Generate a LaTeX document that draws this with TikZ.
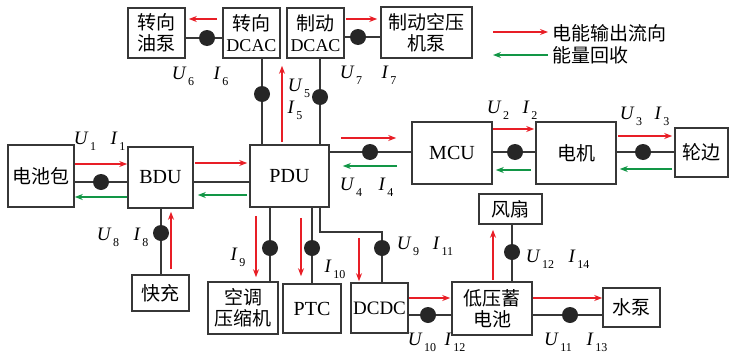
\documentclass[tikz,border=0pt]{standalone}
\usepackage{fontspec}
\setmainfont{Liberation Serif}
\newfontfamily\cjk{Noto Sans CJK SC}
\usepackage{tikz}
\usetikzlibrary{calc, arrows.meta}

\definecolor{flowred}{RGB}{232,30,38}
\definecolor{flowgreen}{RGB}{18,150,70}
\definecolor{linegray}{RGB}{55,55,55}
\newcommand{\ui}[2]{\textit{#1}\kern1.5pt\raisebox{-0.7ex}{\fontsize{12}{12}\selectfont #2}}

\begin{document}
\begin{tikzpicture}[x=1pt, y=-1pt,
    box/.style={draw=linegray, line width=1.6pt, inner sep=0pt, align=center,
        font=\fontsize{20}{21}\selectfont},
    cbox/.style={box, font=\fontsize{19}{21}\selectfont\cjk},
    conn/.style={draw=linegray, line width=1.3pt},
    dot/.style={circle, fill=black!85, minimum size=16pt, inner sep=0pt},
    flow/.style={draw=flowred, line width=1.2pt, -{Stealth[length=8pt, width=6pt]}},
    back/.style={draw=flowgreen, line width=1.2pt, -{Stealth[length=8pt, width=6pt]}},
    lbl/.style={font=\fontsize{19}{19}\selectfont, inner sep=0pt}]
    \useasboundingbox (0,0) rectangle (730,356);

    % boxes
    \node[cbox, minimum width=57pt, minimum height=50pt] (pump) at (156.5,33) {转向\\油泵};
    \node[box, minimum width=57pt, minimum height=50pt, font=\fontsize{18}{21}\selectfont] (steer) at (251.5,33) {{\cjk\fontsize{19}{21}\selectfont 转向}\\DCAC};
    \node[box, minimum width=57pt, minimum height=50pt, font=\fontsize{18}{21}\selectfont] (brake) at (315.5,33) {{\cjk\fontsize{19}{21}\selectfont 制动}\\DCAC};
    \node[cbox, minimum width=91pt, minimum height=51pt] (air) at (426.5,32.5) {制动空压\\机泵};
    \node[cbox, minimum width=66pt, minimum height=62pt] (bat) at (41,176) {电池包};
    \node[box, minimum width=65pt, minimum height=61pt] (bdu) at (160.5,177.5) {BDU};
    \node[box, minimum width=79pt, minimum height=62pt] (pdu) at (289.5,176) {PDU};
    \node[box, minimum width=80pt, minimum height=62pt] (mcu) at (452,153) {MCU};
    \node[cbox, minimum width=80pt, minimum height=62pt] (motor) at (576,153) {电机};
    \node[cbox, minimum width=53pt, minimum height=49pt] (wheel) at (701.5,152.5) {轮边};
    \node[cbox, minimum width=63pt, minimum height=30pt] (fan) at (510.5,209) {风扇};
    \node[cbox, minimum width=80pt, minimum height=53pt] (lvb) at (492,308.5) {低压蓄\\电池};
    \node[cbox, minimum width=57pt, minimum height=39pt] (wpump) at (631.5,307.5) {水泵};
    \node[box, minimum width=57pt, minimum height=50pt, font=\fontsize{19}{21}\selectfont] (dcdc) at (379.5,308) {DCDC};
    \node[box, minimum width=58pt, minimum height=49pt] (ptc) at (312,308.5) {PTC};
    \node[cbox, minimum width=70pt, minimum height=52pt] (ac) at (243,308) {空调\\压缩机};
    \node[cbox, minimum width=57pt, minimum height=36pt] (fc) at (160.5,293) {快充};

    % measuring points
    \node[dot] (d1) at (101,182) {};
    \node[dot] (d3) at (370,152) {};
    \node[dot] (d4) at (515,152) {};
    \node[dot] (d5) at (643,152) {};
    \node[dot] (d6) at (262,94) {};
    \node[dot] (d7) at (320,97) {};
    \node[dot] (d8) at (207,38) {};
    \node[dot] (d9) at (358,37) {};
    \node[dot] (d10) at (161,233) {};
    \node[dot] (d11) at (270,248) {};
    \node[dot] (d12) at (312,248) {};
    \node[dot] (d13) at (382,248) {};
    \node[dot] (d14) at (428,315) {};
    \node[dot] (d15) at (512,252) {};
    \node[dot] (d16) at (570,315) {};
    \coordinate (bend) at (382,232);

    % connections
    \draw[conn] (bat.east |- d1) -- (d1) -- (bdu.west |- d1);
    \draw[conn] (bdu.east |- d1) -- (pdu.west |- d1);
    \draw[conn] (pdu.east |- d3) -- (d3) -- (mcu.west |- d3);
    \draw[conn] (mcu.east |- d4) -- (d4) -- (motor.west |- d4);
    \draw[conn] (motor.east |- d5) -- (d5) -- (wheel.west |- d5);
    \draw[conn] (pdu.north -| d6) -- (d6) -- (steer.south -| d6);
    \draw[conn] (pdu.north -| d7) -- (d7) -- (brake.south -| d7);
    \draw[conn] (steer.west |- d8) -- (d8) -- (pump.east |- d8);
    \draw[conn] (brake.east |- d9) -- (d9) -- (air.west |- d9);
    \draw[conn] (bdu.south -| d10) -- (d10) -- (fc.north -| d10);
    \draw[conn] (pdu.south -| d11) -- (d11) -- (ac.north -| d11);
    \draw[conn] (pdu.south -| d12) -- (d12) -- (ptc.north -| d12);
    \draw[conn] (pdu.south -| d7) |- (bend) -- (d13) -- (dcdc.north -| d13);
    \draw[conn] (dcdc.east |- d14) -- (d14) -- (lvb.west |- d14);
    \draw[conn] (lvb.north -| d15) -- (d15) -- (fan.south -| d15);
    \draw[conn] (lvb.east |- d16) -- (d16) -- (wpump.west |- d16);

    % energy flow
    \draw[flow] (bat.east |- 0,164) -- (bdu.west |- 0,164);
    \draw[back] (bdu.west |- 0,197) -- (bat.east |- 0,197);
    \draw[flow] ($(bdu.east |- 0,163)+(1,0)$) -- ($(pdu.west |- 0,163)+(-2,0)$);
    \draw[back] ($(pdu.west |- 0,195)+(-2,0)$) -- ($(bdu.east |- 0,195)+(4,0)$);
    \draw[flow] ($(pdu.east |- 0,138)+(11,0)$) -- ($(mcu.west |- 0,138)+(-15,0)$);
    \draw[back] ($(mcu.west |- 0,166)+(-14,0)$) -- ($(pdu.east |- 0,166)+(13,0)$);
    \draw[flow] (mcu.east |- 0,129) -- ($(motor.west |- 0,129)+(-1,0)$);
    \draw[back] ($(motor.west |- 0,170)+(-4,0)$) -- ($(mcu.east |- 0,170)+(3,0)$);
    \draw[flow] ($(motor.east |- 0,136)+(1,0)$) -- ($(wheel.west |- 0,136)+(-2,0)$);
    \draw[back] ($(wheel.west |- 0,169)+(-2,0)$) -- ($(motor.east |- 0,169)+(3,0)$);
    \draw[flow] ($(pdu.north -| 282,0)+(0,-2)$) -- ($(steer.south -| 282,0)+(0,7)$);
    \draw[flow] ($(steer.west |- 0,19)+(-5,0)$) -- ($(pump.east |- 0,19)+(3,0)$);
    \draw[flow] ($(brake.east |- 0,19)+(1,0)$) -- ($(air.west |- 0,19)+(-3,0)$);
    \draw[flow] ($(fc.north -| 171,0)+(0,-5)$) -- ($(bdu.south -| 171,0)+(0,3)$);
    \draw[flow] ($(pdu.south -| 256,0)+(0,8)$) -- ($(ac.north -| 256,0)+(0,-4)$);
    \draw[flow] ($(pdu.south -| 301,0)+(0,10)$) -- ($(ptc.north -| 301,0)+(0,-7)$);
    \draw[flow] ($(pdu.south -| 359,0)+(0,30)$) -- ($(dcdc.north -| 359,0)+(0,-1)$);
    \draw[flow] (dcdc.east |- 0,298) -- ($(lvb.west |- 0,298)+(-1,0)$);
    \draw[flow] ($(lvb.north -| 493,0)+(0,-1)$) -- ($(fan.south -| 493,0)+(0,5)$);
    \draw[flow] (lvb.east |- 0,298) -- (wpump.west |- 0,298);

    % legend
    \coordinate (lgA) at (493,32);
    \coordinate (lgB) at (548,32);
    \coordinate (lgC) at (493,55);
    \coordinate (lgD) at (548,55);
    \draw[flow] (lgA) -- (lgB);
    \draw[back] (lgD) -- (lgC);
    \node[anchor=west, inner sep=0pt, font=\fontsize{19}{19}\selectfont\cjk] (lgflow) at (552,33) {电能输出流向};
    \node[anchor=west, inner sep=0pt, font=\fontsize{19}{19}\selectfont\cjk] (lgback) at (552,55) {能量回收};

    % labels
    \node[lbl] (u1) at (85,141) {\ui{U}{1}};
    \node[lbl] (i1) at (118,141) {\ui{I}{1}};
    \node[lbl] (u2) at (498,110) {\ui{U}{2}};
    \node[lbl] (i2) at (530,110) {\ui{I}{2}};
    \node[lbl] (u3) at (631,116) {\ui{U}{3}};
    \node[lbl] (i3) at (662,116) {\ui{I}{3}};
    \node[lbl] (u4) at (351,187) {\ui{U}{4}};
    \node[lbl] (i4) at (386,187) {\ui{I}{4}};
    \node[lbl] (u5) at (299,88) {\ui{U}{5}};
    \node[lbl] (i5) at (295,110) {\ui{I}{5}};
    \node[lbl] (u6) at (183,76) {\ui{U}{6}};
    \node[lbl] (i6) at (221,76) {\ui{I}{6}};
    \node[lbl] (u7) at (351,75) {\ui{U}{7}};
    \node[lbl] (i7) at (389,75) {\ui{I}{7}};
    \node[lbl] (u8) at (108,237) {\ui{U}{8}};
    \node[lbl] (i8) at (141,237) {\ui{I}{8}};
    \node[lbl] (i9) at (238,257) {\ui{I}{9}};
    \node[lbl] (i10) at (335,269) {\ui{I}{10}};
    \node[lbl] (u9) at (408,246) {\ui{U}{9}};
    \node[lbl] (i11) at (443,246) {\ui{I}{11}};
    \node[lbl] (u10) at (422,342) {\ui{U}{10}};
    \node[lbl] (i12) at (455,342) {\ui{I}{12}};
    \node[lbl] (u11) at (558,342) {\ui{U}{11}};
    \node[lbl] (i13) at (597,342) {\ui{I}{13}};
    \node[lbl] (u12) at (540,259) {\ui{U}{12}};
    \node[lbl] (i14) at (579,259) {\ui{I}{14}};
\end{tikzpicture}
\end{document}
